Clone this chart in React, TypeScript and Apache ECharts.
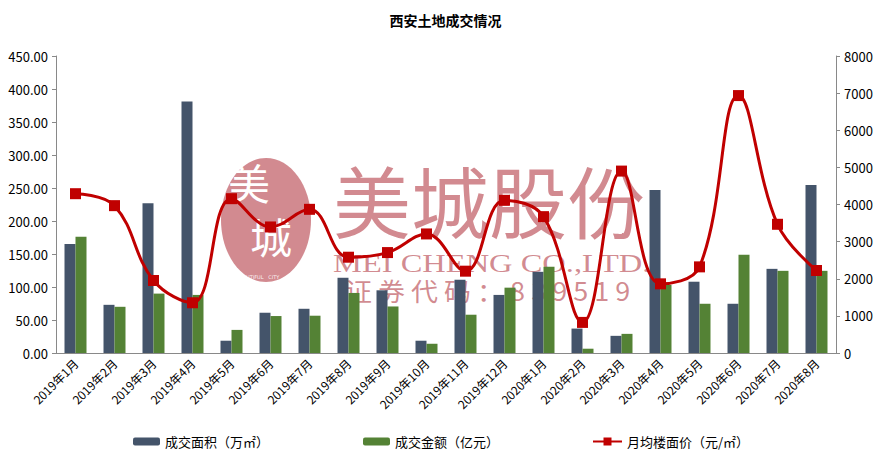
import React, { useEffect, useRef } from "react";
import * as echarts from "echarts";

const categories = [
  "2019年1月", "2019年2月", "2019年3月", "2019年4月", "2019年5月", "2019年6月",
  "2019年7月", "2019年8月", "2019年9月", "2019年10月", "2019年11月", "2019年12月",
  "2020年1月", "2020年2月", "2020年3月", "2020年4月", "2020年5月", "2020年6月",
  "2020年7月", "2020年8月",
];
const areaValues = [165, 73, 227, 381, 18.6, 61, 67, 114, 95, 18.6, 111, 88, 123, 37, 26, 247, 108, 74.6, 127.5, 254.5];
const amountValues = [176, 70, 90, 88, 35, 56, 56.5, 91, 70.5, 14, 58, 99, 130.5, 6.5, 29, 103, 74.6, 148.7, 124.5, 124.5];
const priceValues = [4291, 3969, 1953, 1353, 4157, 3395, 3870, 2580, 2705, 3207, 2204, 4112, 3673, 824, 4900, 1863, 2320, 6934, 3467, 2222];

const nameArea = "成交面积（万㎡）";
const nameAmount = "成交金额（亿元）";
const namePrice = "月均楼面价（元/㎡）";

const FONT = "'Noto Sans CJK SC', 'Noto Sans', sans-serif";

export default function App() {
  const ref = useRef<HTMLDivElement>(null);
  useEffect(() => {
    if (!ref.current) return;
    const chart = echarts.init(ref.current, undefined, { renderer: "svg" });
    const wm = "rgba(180,60,70,0.6)";
    chart.setOption({
      animation: false,
      backgroundColor: "#ffffff",
      textStyle: { fontFamily: FONT },
      title: {
        text: "西安土地成交情况",
        left: "center",
        top: 8,
        textStyle: { fontSize: 14, fontWeight: "bold", color: "#000", fontFamily: FONT },
      },
      graphic: [
        { type: "ellipse", z: -10, shape: { cx: 266, cy: 220, rx: 45, ry: 62 }, style: { fill: wm } },
        { type: "text", z: -9, x: 228, y: 160, style: { text: "美", fill: "#fff", font: "42px 'Noto Sans CJK SC'" } },
        { type: "text", z: -9, x: 250, y: 214, style: { text: "城", fill: "#fff", font: "42px 'Noto Sans CJK SC'" } },
        { type: "text", z: -9, x: 236, y: 274, style: { text: "BEAUTIFUL   CITY", fill: "rgba(255,255,255,0.9)", font: "5px 'DejaVu Sans'" } },
        { type: "text", z: -10, x: 333, y: 160, style: { text: "美城股份", fill: wm, font: "78px 'Noto Sans CJK SC'" } },
        { type: "text", z: -10, x: 333, y: 251, scaleX: 1.3, style: { text: "MEI CHENG CO.,LTD.", fill: wm, font: "25px 'Liberation Serif'" } },
        { type: "text", z: -10, x: 345, y: 277, scaleX: 1.08, style: { text: "证 券 代 码 ： 8 3 9 5 1 9", fill: wm, font: "25px 'Noto Sans CJK SC'" } },
      ],
      legend: [
        {
          data: [nameArea], left: 128, top: 430, itemWidth: 27, itemHeight: 8,
          textStyle: { fontSize: 13, color: "#000", fontFamily: FONT },
        },
        {
          data: [nameAmount], left: 358, top: 430, itemWidth: 27, itemHeight: 8,
          textStyle: { fontSize: 13, color: "#000", fontFamily: FONT },
        },
        {
          data: [namePrice], left: 587, top: 430, itemWidth: 29, itemHeight: 10,
          textStyle: { fontSize: 13, color: "#000", fontFamily: FONT },
        },
      ],
      grid: { left: 56, right: 55, top: 56, bottom: 118 },
      xAxis: {
        type: "category",
        data: categories,
        axisLine: { lineStyle: { color: "#898989" } },
        axisTick: { show: false },
        axisLabel: { rotate: 45, fontSize: 12, color: "#000", margin: 8, interval: 0, fontFamily: FONT },
      },
      yAxis: [
        {
          type: "value", min: 0, max: 450, interval: 50,
          axisLine: { show: true, lineStyle: { color: "#898989" } },
          axisTick: { show: true, length: 4, lineStyle: { color: "#898989" } },
          splitLine: { show: false },
          axisLabel: { fontSize: 13, color: "#000", formatter: (v: number) => v.toFixed(2), fontFamily: FONT },
        },
        {
          type: "value", min: 0, max: 8000, interval: 1000,
          axisLine: { show: true, lineStyle: { color: "#898989" } },
          axisTick: { show: true, length: 4, lineStyle: { color: "#898989" } },
          splitLine: { show: false },
          axisLabel: { fontSize: 13, color: "#000", formatter: (v: number) => String(v), fontFamily: FONT },
        },
      ],
      series: [
        {
          name: nameArea, type: "bar", data: areaValues, barWidth: 11, barGap: "0%",
          itemStyle: { color: "#44546a" },
        },
        {
          name: nameAmount, type: "bar", data: amountValues, barWidth: 11,
          itemStyle: { color: "#548235" },
        },
        {
          name: namePrice, type: "line", yAxisIndex: 1, data: priceValues, smooth: 0.4,
          symbol: "rect", symbolSize: 11, z: 5,
          lineStyle: { color: "#c00000", width: 3 },
          itemStyle: { color: "#c00000" },
        },
      ],
    });
    return () => chart.dispose();
  }, []);
  return <div ref={ref} style={{ position: "fixed", left: 0, top: 0, width: 891, height: 471 }} />;
}
